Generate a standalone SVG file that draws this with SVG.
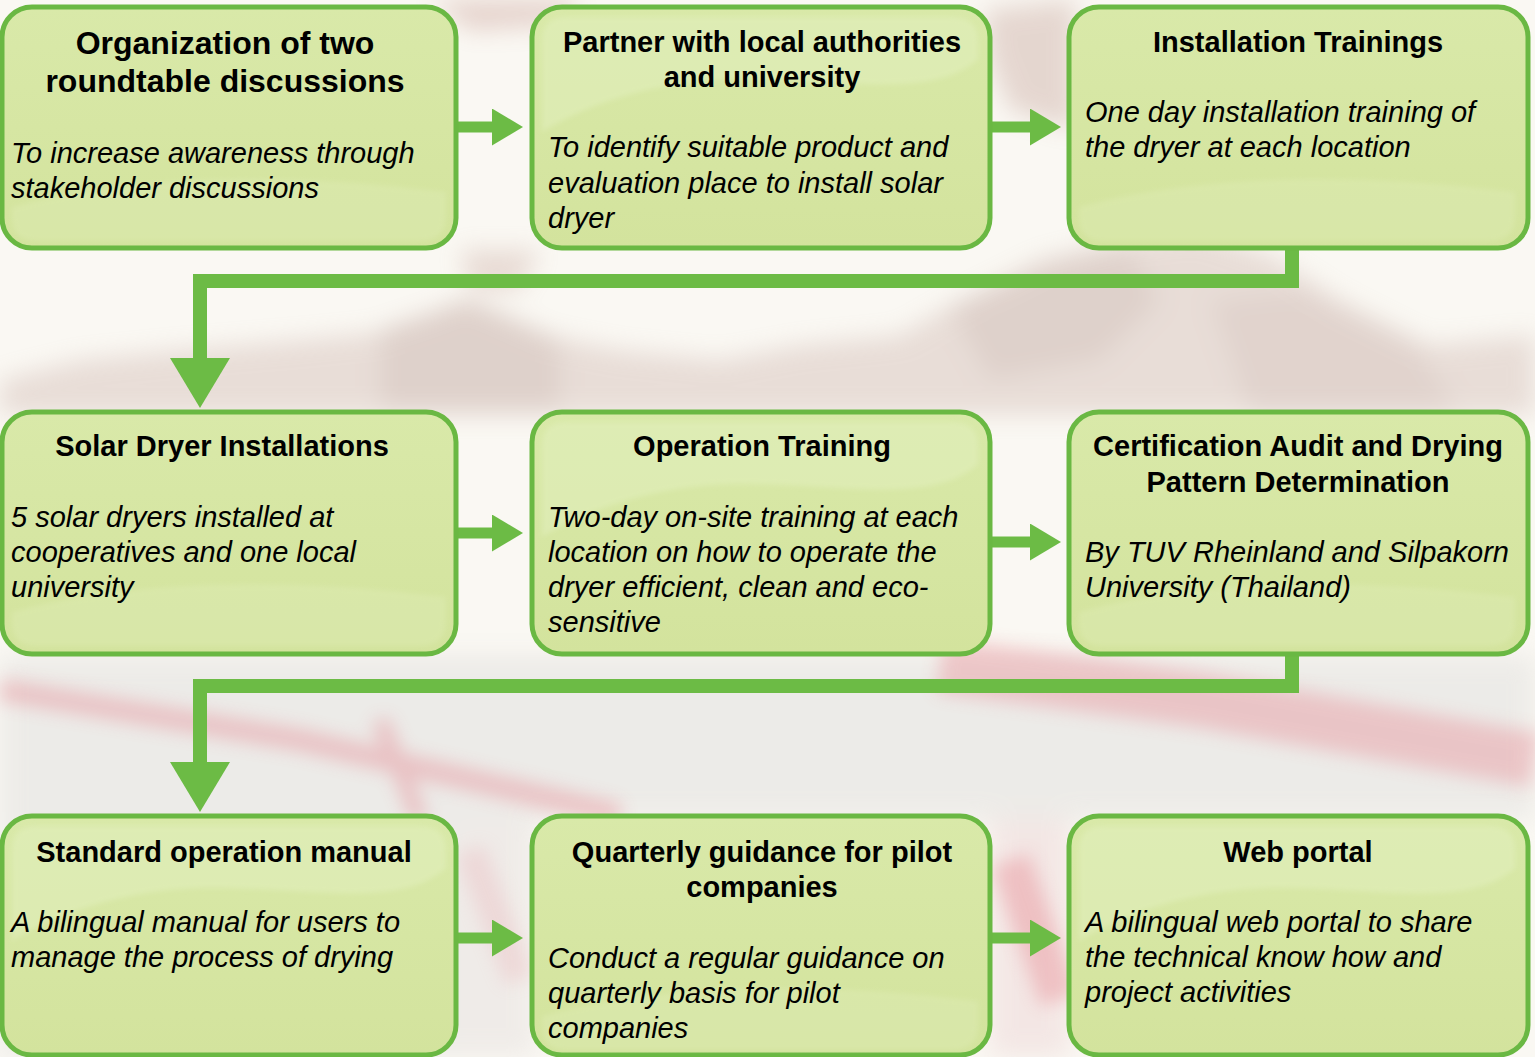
<svg xmlns="http://www.w3.org/2000/svg" xmlns:xlink="http://www.w3.org/1999/xlink" width="1535" height="1057" viewBox="0 0 1535 1057">
<style>
.box{fill:url(#boxfill);stroke:#6ab843;stroke-width:5}
.gloss{fill:#e3f0c0;opacity:0.5}
.glossb{fill:#e0edb8;opacity:0.4}
.t{font-family:"Liberation Sans",Arial,sans-serif;font-weight:bold;font-size:29px;fill:#000;text-anchor:middle}
.t1{font-size:32px}
.b{font-family:"Liberation Sans",Arial,sans-serif;font-style:italic;font-size:29px;fill:#000}
.conn{fill:none;stroke:#6cbb45;stroke-linejoin:miter}
.h{stroke-width:11}
.v{stroke-width:14}
</style>
<defs>
<linearGradient id="boxfill" x1="0" y1="0" x2="0" y2="1">
<stop offset="0" stop-color="#d9e9a9"/>
<stop offset="1" stop-color="#d3e39d"/>
</linearGradient>
<filter id="blur" x="-20%" y="-20%" width="140%" height="140%"><feGaussianBlur stdDeviation="12"/></filter>
<filter id="blur2" x="-20%" y="-20%" width="140%" height="140%"><feGaussianBlur stdDeviation="9"/></filter>
<filter id="soft" x="-5%" y="-5%" width="110%" height="110%"><feGaussianBlur stdDeviation="2.5"/></filter>
<marker id="ahR" markerUnits="userSpaceOnUse" viewBox="0 0 31 37" markerWidth="31" markerHeight="37" refX="0" refY="18.5" orient="auto">
<path d="M0,0 L31,18.5 L0,37 Z" fill="#6cbb45"/>
</marker>
<marker id="ahD" markerUnits="userSpaceOnUse" viewBox="0 0 50 60" markerWidth="50" markerHeight="60" refX="0" refY="30" orient="auto">
<path d="M0,0 L50,30 L0,60 Z" fill="#6cbb45"/>
</marker>
<path id="gl" class="gloss" filter="url(#soft)" d="M10,34 Q10,10 34,10 L420,10 Q446,10 446,34 L446,52 C400,95 300,70 200,72 C120,74 50,100 10,125 Z"/>
<path id="glb" class="glossb" filter="url(#soft)" d="M10,200 C100,175 250,160 446,185 L446,210 Q446,234 420,234 L34,234 Q10,234 10,210 Z"/>
</defs>

<g id="background">
<rect x="0" y="0" width="1535" height="1057" fill="#faf8f3"/>
<g filter="url(#blur)" opacity="0.3">
<path d="M430,0 L580,0 L560,25 L470,30 Z" fill="#b57b72"/>
<path d="M985,10 L1075,0 L1075,130 L1010,110 L990,60 Z" fill="#b58a80"/>
<path d="M460,250 L540,250 L520,290 L470,290 Z" fill="#c09a90"/>
<path d="M0,380 L80,360 L180,350 L300,340 L400,330 L460,300 L520,330 L620,350 L720,360 L800,345 L900,335 L960,300 L1040,260 L1120,240 L1200,232 L1270,255 L1340,300 L1430,345 L1535,335 L1535,415 L0,415 Z" fill="#c0a098"/>
<path d="M380,330 L470,300 L560,340 L560,410 L380,410 Z" fill="#a07870"/>
<path d="M950,310 L1050,265 L1130,250 L1160,300 L1100,360 L990,380 Z" fill="#a07870"/>
<path d="M1210,300 L1300,290 L1420,350 L1460,415 L1250,415 Z" fill="#a88078"/>
<rect x="0" y="655" width="1535" height="165" fill="#cfcfcf"/>
<path d="M0,1057 L0,820 L460,820 L460,1057 Z" fill="#d0d0d0"/>
<rect x="455" y="820" width="80" height="237" fill="#d8d0d0"/>
<rect x="990" y="820" width="80" height="237" fill="#e4c0c4"/>
</g>
<g filter="url(#blur2)" opacity="0.25">
<path d="M0,690 L300,740 L620,815" stroke="#e04a5a" stroke-width="22" fill="none"/>
<path d="M940,665 L1200,700 L1535,760" stroke="#e45565" stroke-width="55" fill="none"/>
<path d="M380,720 L420,820" stroke="#e04a5a" stroke-width="18" fill="none"/>
<path d="M1010,860 L1060,1000" stroke="#e0505e" stroke-width="40" fill="none"/>
<path d="M470,850 L520,980" stroke="#e8a0a8" stroke-width="30" fill="none"/>
</g>
</g>

<g id="connectors">
<path class="conn h" d="M456,127 H492" marker-end="url(#ahR)"/>
<path class="conn h" d="M990,127 H1030" marker-end="url(#ahR)"/>
<path class="conn v" d="M1292,248 V281 H200 V358" marker-end="url(#ahD)"/>
<path class="conn h" d="M456,533 H492" marker-end="url(#ahR)"/>
<path class="conn h" d="M990,542 H1030" marker-end="url(#ahR)"/>
<path class="conn v" d="M1292,654 V686 H200 V762" marker-end="url(#ahD)"/>
<path class="conn h" d="M456,938 H492" marker-end="url(#ahR)"/>
<path class="conn h" d="M990,938 H1030" marker-end="url(#ahR)"/>
</g>

<g id="node1">
<rect class="box" x="2" y="7" width="454" height="241" rx="30"/>
<use xlink:href="#glb" transform="translate(2,7) scale(0.995,1)"/>
<text class="t t1" x="225" y="54">Organization of two</text>
<text class="t t1" x="225" y="92">roundtable discussions</text>
<text class="b" x="11" y="163">To increase awareness through</text>
<text class="b" x="11" y="198">stakeholder discussions</text>
</g>

<g id="node2">
<rect class="box" x="532" y="7" width="458" height="241" rx="30"/>
<use xlink:href="#gl" transform="translate(532,7)"/>
<text class="t" x="762" y="52">Partner with local authorities</text>
<text class="t" x="762" y="87">and university</text>
<text class="b" x="548" y="157">To identify suitable product and</text>
<text class="b" x="548" y="193">evaluation place to install solar</text>
<text class="b" x="548" y="228">dryer</text>
</g>

<g id="node3">
<rect class="box" x="1069" y="7" width="459" height="241" rx="30"/>
<use xlink:href="#glb" transform="translate(1069,7)"/>
<text class="t" x="1298" y="52">Installation Trainings</text>
<text class="b" x="1085" y="122">One day installation training of</text>
<text class="b" x="1085" y="157">the dryer at each location</text>
</g>

<g id="node4">
<rect class="box" x="2" y="412" width="454" height="242" rx="30"/>
<use xlink:href="#glb" transform="translate(2,412) scale(0.995,1)"/>
<text class="t" x="222" y="456">Solar Dryer Installations</text>
<text class="b" x="11" y="527">5 solar dryers installed at</text>
<text class="b" x="11" y="562">cooperatives and one local</text>
<text class="b" x="11" y="597">university</text>
</g>

<g id="node5">
<rect class="box" x="532" y="412" width="458" height="242" rx="30"/>
<use xlink:href="#gl" transform="translate(532,412)"/>
<text class="t" x="762" y="456">Operation Training</text>
<text class="b" x="548" y="527">Two-day on-site training at each</text>
<text class="b" x="548" y="562">location on how to operate the</text>
<text class="b" x="548" y="597">dryer efficient, clean and eco-</text>
<text class="b" x="548" y="632">sensitive</text>
</g>

<g id="node6">
<rect class="box" x="1069" y="412" width="459" height="242" rx="30"/>
<use xlink:href="#glb" transform="translate(1069,412)"/>
<text class="t" x="1298" y="456">Certification Audit and Drying</text>
<text class="t" x="1298" y="492">Pattern Determination</text>
<text class="b" x="1085" y="562">By TUV Rheinland and Silpakorn</text>
<text class="b" x="1085" y="597">University (Thailand)</text>
</g>

<g id="node7">
<rect class="box" x="2" y="816" width="454" height="239" rx="30"/>
<use xlink:href="#gl" transform="translate(2,816) scale(0.995,1)"/>
<text class="t" x="224" y="862">Standard operation manual</text>
<text class="b" x="11" y="932">A bilingual manual for users to</text>
<text class="b" x="11" y="967">manage the process of drying</text>
</g>

<g id="node8">
<rect class="box" x="532" y="816" width="458" height="239" rx="30"/>
<use xlink:href="#glb" transform="translate(532,816)"/>
<text class="t" x="762" y="862">Quarterly guidance for pilot</text>
<text class="t" x="762" y="897">companies</text>
<text class="b" x="548" y="968">Conduct a regular guidance on</text>
<text class="b" x="548" y="1003">quarterly basis for pilot</text>
<text class="b" x="548" y="1038">companies</text>
</g>

<g id="node9">
<rect class="box" x="1069" y="816" width="459" height="239" rx="30"/>
<use xlink:href="#gl" transform="translate(1069,816)"/>
<text class="t" x="1298" y="862">Web portal</text>
<text class="b" x="1085" y="932">A bilingual web portal to share</text>
<text class="b" x="1085" y="967">the technical know how and</text>
<text class="b" x="1085" y="1002">project activities</text>
</g>
</svg>
